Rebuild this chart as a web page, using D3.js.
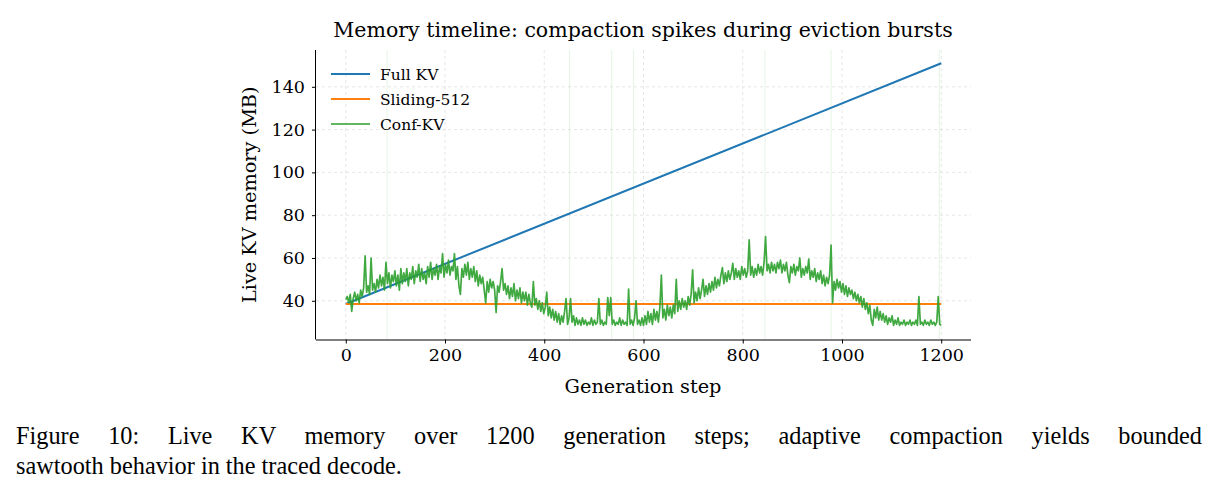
<!DOCTYPE html>
<html>
<head>
<meta charset="utf-8">
<script src="https://cdn.jsdelivr.net/npm/d3@7"></script>
<style>
body { margin: 0; background: #fff; }
.grid line { stroke: #e0e0e0; stroke-width: 0.8; stroke-dasharray: 3,3; }
.axis text { font-family: "DejaVu Serif", serif; font-size: 17.5px; fill: #000; }
.axis path, .axis line { stroke: #000; }
</style>
</head>
<body>
<div class="container"></div>
<script>
var fullSteps = [0, 1200];
var fullKV = [38.5, 151];
var slidingSteps = [0, 1200];
var sliding512 = [38.5, 38.5];

// Conf-KV, read every 3 steps
var confSteps = d3.range(0, 1201, 3);
var confKV = [
    40.5, 42, 39, 43, 35, 41, 44, 40, 43, 39, 45, 42, 46, 61, 44, 47, 43, 60, 45, 48,
    44, 50, 46, 52, 47, 51, 45, 58, 48, 53, 46, 52, 49, 54, 47, 52, 45, 55, 48, 53,
    49, 55, 47, 53, 50, 56, 48, 54, 51, 57, 49, 55, 50, 53, 48, 56, 51, 58, 50, 55,
    52, 57, 50, 56, 53, 62, 51, 57, 53, 59, 52, 56, 54, 62, 50, 56, 47, 43, 55, 51,
    57, 52, 58, 50, 55, 51, 56, 49, 54, 47, 52, 48, 51, 45, 39, 49, 44, 50, 46, 49,
    45, 34.5, 47, 44, 49, 55, 45, 48, 43, 47, 41, 46, 42, 48, 40, 45, 41, 46, 39, 44,
    40, 44, 38, 43, 39, 37, 49, 38, 41, 36, 40, 35, 39, 34, 37, 44, 33, 37, 32, 36,
    31, 35, 30, 34, 29, 33, 30, 35, 41, 29, 32, 41, 30, 33, 28.5, 32, 29, 31, 28.5, 32,
    29, 31, 28.5, 30, 29, 32, 28.5, 31, 29, 30, 41, 29, 31, 28.5, 30, 29, 41.5, 33, 41.5, 29,
    31, 28.5, 30, 29, 32, 28.5, 31, 29, 30, 28.5, 45.5, 29, 31, 28.5, 32, 40, 29, 31, 28.5, 32,
    28.5, 33, 29, 35, 30, 34, 29, 36, 31, 35, 30, 37, 52, 32, 36, 31, 38, 33, 37, 32,
    38, 34, 50, 35, 40, 36, 41, 37, 40, 36, 42, 38, 43, 54.5, 39, 44, 40, 46, 41, 45,
    50, 42, 47, 43, 48, 44, 49, 45, 51, 46, 50, 47, 52, 55.5, 48, 53, 49, 54, 50, 53,
    57.5, 50, 55, 51, 54, 50, 56, 52, 55, 51, 54, 68.5, 52, 56, 51, 55, 52, 57, 53, 56,
    52, 58, 70, 54, 57, 53, 58, 54, 57, 53, 58, 55, 59, 53, 57, 54, 58, 52, 48.5, 56,
    53, 57, 52, 56, 54, 60, 51, 55, 52, 56, 53, 59.5, 50, 54, 51, 55, 49, 53, 50, 54,
    48, 52, 47, 51, 48, 52, 66, 39, 49, 45, 50, 46, 49, 44, 48, 43, 47, 42, 46, 43,
    45, 41, 44, 40, 43, 39, 42, 37, 41, 36, 39, 34, 38, 31, 28.5, 36, 32, 37, 31, 35,
    31, 34, 30, 33, 29, 32, 30, 33, 28.5, 31, 29, 32, 28.5, 30, 29, 31, 28.5, 30, 29, 31,
    28.5, 30, 29, 31, 28.5, 42, 29, 30, 28.5, 31, 29, 30, 28.5, 31, 29, 30, 28.5, 30, 42, 29,
    28.5
];
var burstSteps = [83, 451, 536, 580, 845, 978, 1196];

var xTicks = [0, 200, 400, 600, 800, 1000, 1200];
var yTicks = [40, 60, 80, 100, 120, 140];

var seriesNames = ['Full KV', 'Sliding-512', 'Conf-KV'];
var seriesColors = ['#1f77b4', '#ff7f0e', '#2ca02c'];

var WIDTH = 1218, HEIGHT = 499;
var LEFT = 316, RIGHT = 971, TOP = 50, BOTTOM = 339.5;

var _xScale = d3.scaleLinear().domain([-60, 1260]).range([LEFT, RIGHT]);
var _yScale = d3.scaleLinear().domain([21.9, 157.2]).range([BOTTOM, TOP]);
var _svg;

var toPoints = function (steps, values) {
    return steps.map(function (s, i) { return {x: s, y: values[i]}; });
};

var serifText = function (sel, size) {
    return sel.style('font-family', '"DejaVu Serif", serif').style('font-size', size + 'px');
};

var drawChart = function () {
    _svg = d3.select('.container').append('svg')
        .attr('width', WIDTH)
        .attr('height', HEIGHT);

    // grid
    var grid = _svg.append('g').attr('class', 'grid');
    grid.selectAll('.vx').data(xTicks).enter().append('line')
        .attr('x1', function (d) { return _xScale(d); })
        .attr('x2', function (d) { return _xScale(d); })
        .attr('y1', TOP).attr('y2', BOTTOM);
    grid.selectAll('.hy').data(yTicks).enter().append('line')
        .attr('y1', function (d) { return _yScale(d); })
        .attr('y2', function (d) { return _yScale(d); })
        .attr('x1', LEFT).attr('x2', RIGHT);

    // eviction burst markers
    _svg.append('g').selectAll('line').data(burstSteps).enter().append('line')
        .attr('x1', function (d) { return _xScale(d); })
        .attr('x2', function (d) { return _xScale(d); })
        .attr('y1', TOP).attr('y2', BOTTOM)
        .attr('stroke', '#2ca02c').attr('stroke-opacity', 0.12).attr('stroke-width', 1);

    var line = d3.line()
        .x(function (d) { return _xScale(d.x); })
        .y(function (d) { return _yScale(d.y); });

    _svg.append('path').datum(toPoints(fullSteps, fullKV))
        .attr('d', line).attr('fill', 'none')
        .attr('stroke', seriesColors[0]).attr('stroke-width', 2);
    _svg.append('path').datum(toPoints(slidingSteps, sliding512))
        .attr('d', line).attr('fill', 'none')
        .attr('stroke', seriesColors[1]).attr('stroke-width', 2);
    _svg.append('path').datum(toPoints(confSteps, confKV))
        .attr('d', line).attr('fill', 'none')
        .attr('stroke', seriesColors[2]).attr('stroke-opacity', 0.9)
        .attr('stroke-width', 1.7).attr('stroke-linejoin', 'round');

    // axes
    _svg.append('g').attr('class', 'axis')
        .attr('transform', 'translate(0,' + BOTTOM + ')')
        .call(d3.axisBottom(_xScale).tickValues(xTicks).tickFormat(d3.format('d'))
            .tickSize(4).tickPadding(5.5).tickSizeOuter(0))
        .select('.domain').attr('d', 'M' + LEFT + ',0.5H' + RIGHT);
    _svg.append('g').attr('class', 'axis')
        .attr('transform', 'translate(' + LEFT + ',0)')
        .call(d3.axisLeft(_yScale).tickValues(yTicks).tickSize(4).tickPadding(7).tickSizeOuter(0))
        .select('.domain').attr('d', 'M-0.5,' + TOP + 'V' + BOTTOM);

    // title and labels
    serifText(_svg.append('text'), 20.5).attr('x', 643).attr('y', 37)
        .attr('text-anchor', 'middle')
        .text('Memory timeline: compaction spikes during eviction bursts');
    serifText(_svg.append('text'), 19.3).attr('x', 643).attr('y', 393)
        .attr('text-anchor', 'middle')
        .text('Generation step');
    serifText(_svg.append('text'), 19.3)
        .attr('transform', 'translate(256,' + ((TOP + BOTTOM) / 2) + ') rotate(-90)')
        .attr('text-anchor', 'middle')
        .text('Live KV memory (MB)');

    // legend
    var legend = _svg.append('g').selectAll('g').data(seriesNames).enter().append('g')
        .attr('transform', function (d, i) { return 'translate(331,' + (74 + i * 25) + ')'; });
    legend.append('line').attr('x1', 0).attr('x2', 39)
        .attr('stroke', function (d, i) { return seriesColors[i]; })
        .attr('stroke-width', function (d, i) { return i === 2 ? 1.7 : 2; });
    serifText(legend.append('text'), 15.5).attr('x', 49).attr('y', 5.5)
        .text(function (d) { return d; });

    // caption, first line justified with word spacing
    var cap1 = _svg.append('text').attr('x', 16).attr('y', 444)
        .style('font-family', '"Liberation Serif", serif').style('font-size', '24.3px')
        .text('Figure 10: Live KV memory over 1200 generation steps; adaptive compaction yields bounded');
    var natural = cap1.node().getComputedTextLength();
    var gaps = cap1.text().split(' ').length - 1;
    cap1.style('word-spacing', ((1202 - 16 - natural) / gaps) + 'px');
    _svg.append('text').attr('x', 16).attr('y', 474)
        .style('font-family', '"Liberation Serif", serif').style('font-size', '24.3px')
        .text('sawtooth behavior in the traced decode.');
};

window.onload = drawChart;
</script>
</body>
</html>
